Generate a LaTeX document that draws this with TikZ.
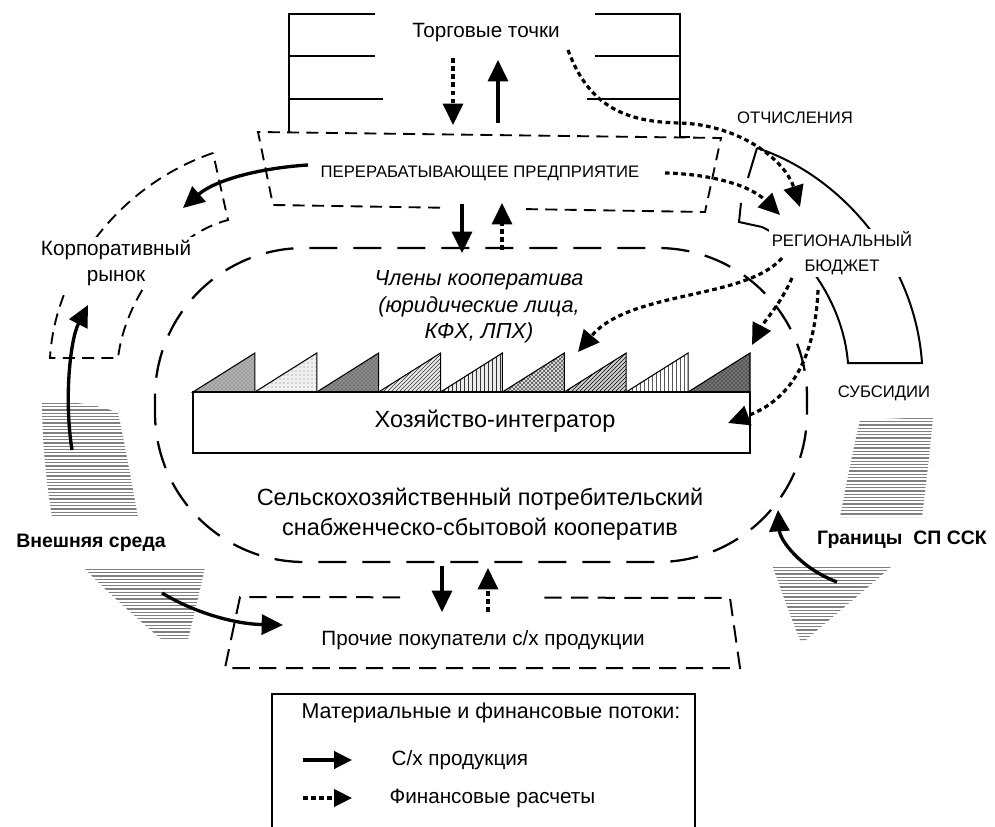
\documentclass[tikz,border=0pt]{standalone}
\usepackage{fontspec}
\setmainfont{Liberation Sans}
\usetikzlibrary{arrows.meta,patterns}
\newcommand\fntMain{\fontsize{15.5}{20}\selectfont}
\newcommand\fntLeg{\fontsize{16.1}{20}\selectfont}
\newcommand\fntBig{\fontsize{17.6}{22.5}\selectfont}
\newcommand\fntSmall{\fontsize{12.5}{18.8}\selectfont}
\newcommand\fntBold{\fontsize{14.6}{18}\selectfont\bfseries}
\newcommand\fntIt{\fontsize{16.3}{20}\selectfont\itshape}
\begin{document}
\begin{tikzpicture}[x=0.75pt,y=-0.75pt,
  every node/.style={inner sep=1pt, font=\fntMain},
  struct/.style={line width=1.4pt, dash pattern=on 9pt off 5.5pt},
  other/.style={line width=1.5pt, dash pattern=on 13pt off 7pt},
  coop/.style={line width=1.7pt, dash pattern=on 21pt off 12pt},
  solidline/.style={line width=1.5pt},
  prod/.style={line width=2.5pt, -{Triangle[length=16pt,width=15pt]}},
  fin/.style={line width=2.4pt, dash pattern=on 3.5pt off 2.6pt, -{Triangle[length=16pt,width=15pt]}},
  legprod/.style={line width=2.5pt, -{Triangle[length=13.5pt,width=13pt]}},
  legfin/.style={line width=2.4pt, dash pattern=on 3.5pt off 2.6pt, -{Triangle[length=13.5pt,width=13pt]}},
  hatch/.style={black!50, line width=1pt},
  tri/.style={line width=0.8pt},
  lbl/.style={fill=white, inner sep=2pt},
]
\useasboundingbox (0,0) rectangle (995,827);
\clip (0,0) rectangle (995,827);

% ---- hatched environment pieces
\begin{scope}
\clip (42,402) .. controls (75,401) and (100,405) .. (118,413) .. controls (126,450) and (132,485) .. (138,517) -- (52,517) .. controls (46,480) and (42,440) .. cycle;
\foreach \yy in {400,403.3,...,522} \draw[hatch] (30,\yy) -- (150,\yy);
\end{scope}
\begin{scope}
\clip (83,567) -- (205,567) .. controls (199,595) and (193,618) .. (188,640) -- (162,640) .. controls (130,612) and (105,590) .. cycle;
\foreach \yy in {566,569.3,...,642} \draw[hatch] (70,\yy) -- (220,\yy);
\end{scope}
\begin{scope}
\clip (860,420) -- (933,417) .. controls (930,450) and (926,485) .. (922,517) -- (840,517) .. controls (846,485) and (853,450) .. cycle;
\foreach \yy in {415,418.3,...,520} \draw[hatch] (830,\yy) -- (945,\yy);
\end{scope}
\begin{scope}
\clip (772,565) -- (893,565) .. controls (860,595) and (828,620) .. (806,640) -- (800,640) .. controls (790,615) and (781,590) .. cycle;
\foreach \yy in {564,567.3,...,642} \draw[hatch] (760,\yy) -- (900,\yy);
\end{scope}

% ---- top brackets (trading points)
\draw[solidline] (375,14) -- (289,14) -- (289,132);
\draw[solidline] (289,56) -- (375,56);
\draw[solidline] (289,99) -- (383,99);
\draw[solidline] (595,14) -- (680,14) -- (680,137) -- (690,137);
\draw[solidline] (595,56) -- (680,56);
\draw[solidline] (587,99) -- (680,99);

% ---- processing enterprise box
\draw[struct] (440,207.7) -- (273,205) -- (258,132) -- (721,138) -- (705,212) -- (520,209);

% ---- corporate market band
\draw[struct] (213,153) .. controls (120,185) and (55,270) .. (50,358) -- (118,358)
  .. controls (125,300) and (170,235) .. (228,220) -- cycle;

% ---- regional budget band
\draw[solidline] (757,148) .. controls (840,175) and (915,260) .. (922,363) -- (848,363)
  .. controls (843,300) and (800,245) .. (762,227) -- (739,222) -- (741,203);
\draw[solidline] (757,148) -- (748,178);

% ---- cooperative boundary
\draw[coop, rounded corners=112pt] (155,248) rectangle (807,562);

% ---- other buyers box
\draw[other] (400,597.3) -- (240,597) -- (225,668) -- (740,668) -- (730,598) -- (535,597.6);

% ---- members (triangles) and integrator farm
\draw[tri, preaction={fill=black!30}, pattern=crosshatch dots, pattern color=black!65] (193,392) -- (254.9,392) -- (254.9,353) -- cycle;
\draw[tri, preaction={fill=black!6}, pattern=dots, pattern color=black!55] (254.9,392) -- (316.8,392) -- (316.8,353) -- cycle;
\draw[tri, preaction={fill=black!45}, pattern=crosshatch dots, pattern color=black!85] (316.8,392) -- (378.7,392) -- (378.7,353) -- cycle;
\draw[tri, preaction={fill=black!8}, pattern=north east lines, pattern color=black!80] (378.7,392) -- (440.6,392) -- (440.6,353) -- cycle;
\draw[tri, preaction={fill=black!8}, pattern=vertical lines, pattern color=black!80] (440.6,392) -- (502.4,392) -- (502.4,353) -- cycle;
\draw[tri, preaction={fill=black!10}, pattern=crosshatch, pattern color=black!70] (502.4,392) -- (564.3,392) -- (564.3,353) -- cycle;
\draw[tri, preaction={fill=black!18}, pattern=north east lines, pattern color=black] (564.3,392) -- (626.2,392) -- (626.2,353) -- cycle;
\draw[tri, pattern=vertical lines, pattern color=black!65] (626.2,392) -- (688.1,392) -- (688.1,353) -- cycle;
\draw[tri, preaction={fill=black!55}, pattern=crosshatch dots, pattern color=black] (688.1,392) -- (750,392) -- (750,353) -- cycle;
\node[draw, line width=1.1pt, minimum width=417.75pt, minimum height=45.75pt, inner sep=0pt] (farmbox) at (471.5,422.5) {};

% ---- texts
\node (torg) at (486,33) {Торговые точки};
\node[font=\fntSmall] (pererab) at (480,173) {ПЕРЕРАБАТЫВАЮЩЕЕ ПРЕДПРИЯТИЕ};
\node[font=\fntSmall] (otch) at (795,118) {ОТЧИСЛЕНИЯ};
\node[font=\fntSmall, lbl, align=center] (budget) at (842,253) {РЕГИОНАЛЬНЫЙ\\БЮДЖЕТ};
\node[font=\fntSmall] (subs) at (884,393) {СУБСИДИИ};
\node[lbl, align=center] (corp) at (116,263) {Корпоративный\\рынок};
\node[font=\fntIt, align=center] (members) at (479,307) {Члены кооператива\\(юридические лица,\\КФХ, ЛПХ)};
\node[font=\fntBig] (farm) at (495,421) {Хозяйство-интегратор};
\node[font=\fntBig, align=center] (coopname) at (480,514) {Сельскохозяйственный потребительский\\снабженческо-сбытовой кооператив};
\node (buyers) at (483,640) {Прочие покупатели с/х продукции};
\node[font=\fntBold] (ext) at (91,543) {Внешняя среда};
\node[font=\fntBold] (bound) at (902,540) {Границы\ \ СП ССК};

% ---- arrow end points
\coordinate (t1s) at (453,58);  \coordinate (t1e) at (453,125);
\coordinate (t2s) at (498,123); \coordinate (t2e) at (498,60);
\coordinate (m1s) at (462,204); \coordinate (m1e) at (462,253);
\coordinate (m2s) at (502,250); \coordinate (m2e) at (502,203);
\coordinate (b1s) at (442,566); \coordinate (b1e) at (442,612);
\coordinate (b2s) at (488,612); \coordinate (b2e) at (488,568);
\coordinate (cps) at (308,165); \coordinate (cpe) at (183,208);
\coordinate (lus) at (72,450);  \coordinate (lue) at (88,305);
\coordinate (lls) at (162,593); \coordinate (lle) at (283,625);
\coordinate (rus) at (837,582); \coordinate (rue) at (778,510);
\coordinate (fas) at (568,50);  \coordinate (fam) at (680,123); \coordinate (fae) at (800,207);
\coordinate (fbs) at (665,173); \coordinate (fbe) at (780,215);
\coordinate (fcs) at (782,258); \coordinate (fce) at (578,352);
\coordinate (fds) at (792,278); \coordinate (fde) at (752,345);
\coordinate (fes) at (818,290); \coordinate (fee) at (728,423);

% ---- flows
\draw[fin] (t1s) -- (t1e);
\draw[prod] (t2s) -- (t2e);
\draw[prod] (m1s) -- (m1e);
\draw[fin] (m2s) -- (m2e);
\draw[prod] (b1s) -- (b1e);
\draw[fin] (b2s) -- (b2e);
\draw[prod] (cps) .. controls (260,168) and (215,180) .. (cpe);
\draw[prod] (lus) .. controls (64,400) and (70,340) .. (lue);
\draw[prod] (lls) .. controls (195,613) and (235,624) .. (lle);
\draw[prod] (rus) .. controls (800,568) and (780,540) .. (rue);
\draw[fin] (fas) .. controls (590,110) and (630,122) .. (fam) .. controls (740,125) and (785,160) .. (fae);
\draw[fin] (fbs) .. controls (710,174) and (750,185) .. (fbe);
\draw[fin] (fcs) .. controls (745,300) and (630,290) .. (fce);
\draw[fin] (fds) .. controls (780,305) and (765,320) .. (fde);
\draw[fin] (fes) .. controls (815,360) and (790,400) .. (fee);

% ---- legend
\draw[line width=1.1pt] (272,835) -- (272,694) -- (695,694) -- (695,835);
\node[anchor=west, font=\fntLeg] (leghead) at (300,713) {Материальные и финансовые потоки:};
\node[anchor=west] (legp) at (390,760) {С/х продукция};
\node[anchor=west] (legf) at (388,798) {Финансовые расчеты};
\coordinate (lp1) at (303,760); \coordinate (lp2) at (352,760);
\coordinate (lf1) at (303,798); \coordinate (lf2) at (352,798);
\draw[legprod] (lp1) -- (lp2);
\draw[legfin] (lf1) -- (lf2);
\end{tikzpicture}
\end{document}
